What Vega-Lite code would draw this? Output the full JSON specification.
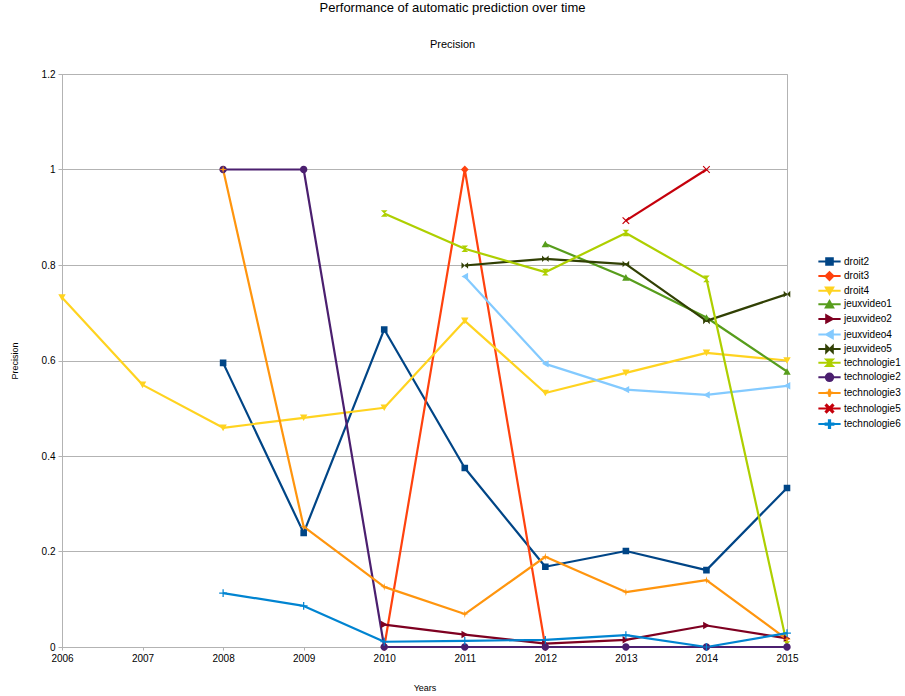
{
  "$schema": "https://vega.github.io/schema/vega-lite/v6.json",
  "width": 725,
  "height": 573,
  "autosize": {"type": "none"},
  "padding": {"left": 62, "top": 74, "right": 118, "bottom": 49},
  "background": "white",
  "config": {
    "font": "Liberation Sans",
    "view": {"stroke": "#b3b3b3", "strokeWidth": 1},
    "axis": {"labelFont": "Liberation Sans", "titleFont": "Liberation Sans", "labelColor": "#000000", "titleColor": "#000000", "titleFontWeight": "normal"}
  },
  "title": {
    "text": "Performance of automatic prediction over time",
    "subtitle": "Precision",
    "anchor": "middle",
    "frame": "group",
    "dx": 28,
    "fontSize": 13,
    "fontWeight": "normal",
    "color": "#000000",
    "subtitleFontSize": 11,
    "subtitleColor": "#000000",
    "subtitlePadding": 24,
    "offset": 19
  },
  "data": {
    "values": [
      {"s": "droit2", "year": 2008, "v": 0.595},
      {"s": "droit2", "year": 2009, "v": 0.239},
      {"s": "droit2", "year": 2010, "v": 0.665},
      {"s": "droit2", "year": 2011, "v": 0.375},
      {"s": "droit2", "year": 2012, "v": 0.168},
      {"s": "droit2", "year": 2013, "v": 0.201},
      {"s": "droit2", "year": 2014, "v": 0.161},
      {"s": "droit2", "year": 2015, "v": 0.333},
      {"s": "droit3", "year": 2010, "v": 0.0},
      {"s": "droit3", "year": 2011, "v": 1.0},
      {"s": "droit3", "year": 2012, "v": 0.0},
      {"s": "droit4", "year": 2006, "v": 0.732},
      {"s": "droit4", "year": 2007, "v": 0.549},
      {"s": "droit4", "year": 2008, "v": 0.459},
      {"s": "droit4", "year": 2009, "v": 0.48},
      {"s": "droit4", "year": 2010, "v": 0.501},
      {"s": "droit4", "year": 2011, "v": 0.683},
      {"s": "droit4", "year": 2012, "v": 0.532},
      {"s": "droit4", "year": 2013, "v": 0.574},
      {"s": "droit4", "year": 2014, "v": 0.616},
      {"s": "droit4", "year": 2015, "v": 0.6},
      {"s": "jeuxvideo1", "year": 2012, "v": 0.844},
      {"s": "jeuxvideo1", "year": 2013, "v": 0.774},
      {"s": "jeuxvideo1", "year": 2014, "v": 0.69},
      {"s": "jeuxvideo1", "year": 2015, "v": 0.577},
      {"s": "jeuxvideo2", "year": 2010, "v": 0.047},
      {"s": "jeuxvideo2", "year": 2011, "v": 0.026},
      {"s": "jeuxvideo2", "year": 2012, "v": 0.007},
      {"s": "jeuxvideo2", "year": 2013, "v": 0.015},
      {"s": "jeuxvideo2", "year": 2014, "v": 0.045},
      {"s": "jeuxvideo2", "year": 2015, "v": 0.018},
      {"s": "jeuxvideo4", "year": 2011, "v": 0.776},
      {"s": "jeuxvideo4", "year": 2012, "v": 0.593},
      {"s": "jeuxvideo4", "year": 2013, "v": 0.539},
      {"s": "jeuxvideo4", "year": 2014, "v": 0.528},
      {"s": "jeuxvideo4", "year": 2015, "v": 0.547},
      {"s": "jeuxvideo5", "year": 2011, "v": 0.799},
      {"s": "jeuxvideo5", "year": 2012, "v": 0.813},
      {"s": "jeuxvideo5", "year": 2013, "v": 0.802},
      {"s": "jeuxvideo5", "year": 2014, "v": 0.683},
      {"s": "jeuxvideo5", "year": 2015, "v": 0.739},
      {"s": "technologie1", "year": 2010, "v": 0.908},
      {"s": "technologie1", "year": 2011, "v": 0.834},
      {"s": "technologie1", "year": 2012, "v": 0.785},
      {"s": "technologie1", "year": 2013, "v": 0.867},
      {"s": "technologie1", "year": 2014, "v": 0.771},
      {"s": "technologie1", "year": 2015, "v": 0.005},
      {"s": "technologie2", "year": 2008, "v": 1.0},
      {"s": "technologie2", "year": 2009, "v": 1.0},
      {"s": "technologie2", "year": 2010, "v": 0.0},
      {"s": "technologie2", "year": 2011, "v": 0.0},
      {"s": "technologie2", "year": 2012, "v": 0.0},
      {"s": "technologie2", "year": 2013, "v": 0.0},
      {"s": "technologie2", "year": 2014, "v": 0.0},
      {"s": "technologie2", "year": 2015, "v": 0.0},
      {"s": "technologie3", "year": 2008, "v": 1.0},
      {"s": "technologie3", "year": 2009, "v": 0.252},
      {"s": "technologie3", "year": 2010, "v": 0.126},
      {"s": "technologie3", "year": 2011, "v": 0.069},
      {"s": "technologie3", "year": 2012, "v": 0.189},
      {"s": "technologie3", "year": 2013, "v": 0.115},
      {"s": "technologie3", "year": 2014, "v": 0.14},
      {"s": "technologie3", "year": 2015, "v": 0.016},
      {"s": "technologie5", "year": 2013, "v": 0.893},
      {"s": "technologie5", "year": 2014, "v": 1.0},
      {"s": "technologie6", "year": 2008, "v": 0.113},
      {"s": "technologie6", "year": 2009, "v": 0.086},
      {"s": "technologie6", "year": 2010, "v": 0.011},
      {"s": "technologie6", "year": 2011, "v": 0.013},
      {"s": "technologie6", "year": 2012, "v": 0.015},
      {"s": "technologie6", "year": 2013, "v": 0.025},
      {"s": "technologie6", "year": 2014, "v": 0.0},
      {"s": "technologie6", "year": 2015, "v": 0.029}
    ]
  },
  "encoding": {
    "x": {
      "field": "year", "type": "quantitative",
      "scale": {"domain": [2006, 2015], "nice": false, "zero": false},
      "axis": {"title": "Years", "values": [2006,2007,2008,2009,2010,2011,2012,2013,2014,2015], "format": "d", "grid": false, "labelFlush": false, "labelFontSize": 10, "titleFontSize": 9, "titlePadding": 20, "domainColor": "#b3b3b3", "tickColor": "#b3b3b3", "tickSize": 3, "labelPadding": 3}
    },
    "y": {
      "field": "v", "type": "quantitative",
      "scale": {"domain": [0, 1.2], "nice": false},
      "axis": {"title": "Precision", "values": [0,0.2,0.4,0.6,0.8,1,1.2], "format": "~g", "grid": true, "gridColor": "#b3b3b3", "labelFontSize": 10, "titleFontSize": 9, "titlePadding": 22, "domainColor": "#b3b3b3", "tickColor": "#b3b3b3", "tickSize": 4, "labelPadding": 3}
    },
    "color": {
      "field": "s", "type": "nominal",
      "scale": {
        "domain": ["droit2","droit3","droit4","jeuxvideo1","jeuxvideo2","jeuxvideo4","jeuxvideo5","technologie1","technologie2","technologie3","technologie5","technologie6"],
        "range": ["#004586","#ff420e","#ffd320","#579d1c","#7e0021","#83caff","#314004","#aecf00","#4b1f6f","#ff950e","#c5000b","#0084d1"]
      },
      "legend": {
        "title": null,
        "orient": "none",
        "legendX": 762,
        "legendY": 182,
        "labelFontSize": 10,
        "labelFont": "Liberation Sans",
        "labelColor": "#000000",
        "symbolSize": 68,
        "labelOffset": 9,
        "rowPadding": -1.4,
        "padding": 0,
        "symbolStrokeWidth": 2,
        "symbolOpacity": 1
      }
    }
  },
  "layer": [
    {
      "mark": {"type": "line", "strokeWidth": 2.2, "strokeJoin": "round"}
    },
    {
      "mark": {"type": "point", "filled": true, "opacity": 1, "size": 68, "strokeWidth": 0},
      "encoding": {
        "shape": {
          "field": "s", "type": "nominal",
          "scale": {
            "domain": ["droit2","droit3","droit4","jeuxvideo1","jeuxvideo2","jeuxvideo4","jeuxvideo5","technologie1","technologie2","technologie3","technologie5","technologie6"],
            "range": [
              "M-2.7,0H2.7M-0.8,-0.8H0.8V0.8H-0.8Z",
              "M-2.7,0H2.7M0,-0.95L0.95,0L0,0.95L-0.95,0Z",
              "M-2.7,0H2.7M-0.9,-0.8H0.9L0,0.8Z",
              "M-2.7,0H2.7M-0.9,0.8H0.9L0,-0.8Z",
              "M-2.7,0H2.7M-0.8,-0.9V0.9L0.8,0Z",
              "M-2.7,0H2.7M0.8,-0.9V0.9L-0.8,0Z",
              "M-2.7,0H2.7M-0.8,-0.8L0.8,0.8V-0.8L-0.8,0.8Z",
              "M-2.7,0H2.7M-0.8,-0.8H0.8L-0.8,0.8H0.8Z",
              "M-2.7,0H2.7M0.9,0A0.9,0.9,0,1,1,-0.9,0A0.9,0.9,0,1,1,0.9,0Z",
              "M-2.7,0H2.7M0,-0.95L0.18,-0.18L0.95,0L0.18,0.18L0,0.95L-0.18,0.18L-0.95,0L-0.18,-0.18Z",
              "M-2.7,0H2.7M-0.9,-0.7L-0.7,-0.9L0,-0.2L0.7,-0.9L0.9,-0.7L0.2,0L0.9,0.7L0.7,0.9L0,0.2L-0.7,0.9L-0.9,0.7L-0.2,0Z",
              "M-2.7,0H2.7M-0.15,-0.95H0.15V-0.15H0.95V0.15H0.15V0.95H-0.15V0.15H-0.95V-0.15H-0.15Z"
            ]
          }
        }
      }
    }
  ]
}
